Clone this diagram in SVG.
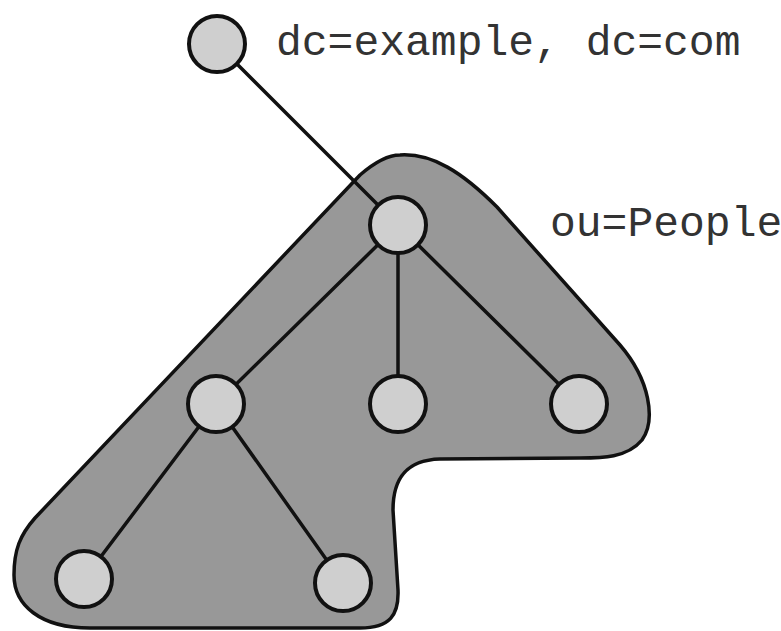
<svg xmlns="http://www.w3.org/2000/svg" width="781" height="631" viewBox="0 0 781 631">
  <style>
    .region { fill: #989898; stroke: #111; stroke-width: 3.5; stroke-linejoin: round; }
    .edge { stroke: #111; stroke-width: 3.5; fill: none; stroke-linecap: round; }
    .node circle { fill: #cfcfcf; stroke: #111; stroke-width: 4; }
    .label { font-family: "Liberation Mono", "DejaVu Sans Mono", monospace; font-size: 43px; fill: #333; }
  </style>

  <!-- ou=People subtree outline -->
  <g id="region-people">
    <path class="region" d="M 400 155
      C 432 153, 462 172, 497 207
      L 620 345
      C 650 380, 656 420, 642 440
      C 627 458, 602 458, 580 458
      L 440 459
      C 405 460, 393 480, 393 510
      L 398 590
      C 399 615, 390 628, 360 628
      L 90 628
      C 40 628, 14 605, 14 575
      C 14 550, 20 535, 35 518
      L 360 175
      C 375 162, 388 155, 400 155 Z"/>
  </g>

  <!-- tree edges -->
  <g id="connectors">
    <line class="edge" x1="217" y1="44" x2="398" y2="225"/>
    <line class="edge" x1="398" y1="225" x2="216" y2="404"/>
    <line class="edge" x1="398" y1="225" x2="398" y2="404"/>
    <line class="edge" x1="398" y1="225" x2="579" y2="404"/>
    <line class="edge" x1="216" y1="404" x2="84" y2="579"/>
    <line class="edge" x1="216" y1="404" x2="343" y2="583"/>
  </g>

  <g id="node-root" class="node">
    <circle cx="217" cy="44" r="28"/>
    <text class="label" x="276" y="55">dc=example, dc=com</text>
  </g>
  <g id="node-people" class="node">
    <circle cx="398" cy="225" r="28"/>
    <text class="label" x="550" y="236">ou=People</text>
  </g>
  <g id="node-a" class="node"><circle cx="216" cy="404" r="28"/></g>
  <g id="node-b" class="node"><circle cx="398" cy="404" r="28"/></g>
  <g id="node-c" class="node"><circle cx="579" cy="404" r="28"/></g>
  <g id="node-d" class="node"><circle cx="84" cy="579" r="28"/></g>
  <g id="node-e" class="node"><circle cx="343" cy="583" r="28"/></g>
</svg>
